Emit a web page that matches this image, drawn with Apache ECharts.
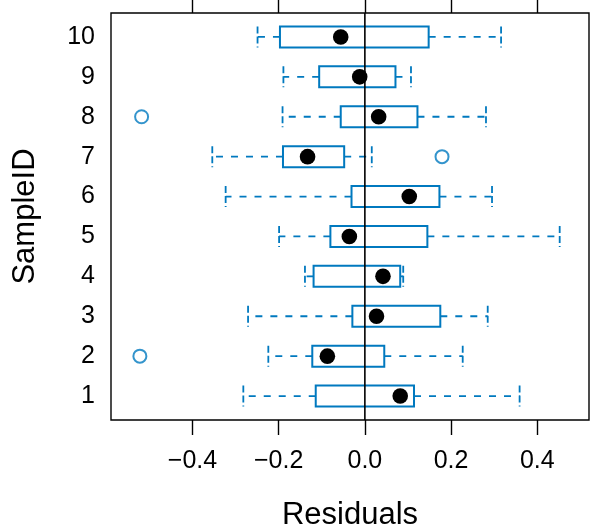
<!DOCTYPE html>
<html>
<head>
<meta charset="utf-8">
<script src="https://cdn.jsdelivr.net/npm/echarts@6/dist/echarts.min.js"></script>
<style>html,body{margin:0;padding:0;background:#fff;}#c{width:591px;height:527px;}</style>
</head>
<body>
<div id="c"></div>
<script>
// ---- data ----
var categories = ['1','2','3','4','5','6','7','8','9','10'];
var lowerWhisker = [-0.282, -0.224, -0.271, -0.139, -0.199, -0.323, -0.354, -0.191, -0.189, -0.249];
var q1          = [-0.114, -0.122, -0.029, -0.119, -0.080, -0.031, -0.190, -0.056, -0.106, -0.197];
var medians     = [ 0.082, -0.087,  0.027,  0.042, -0.036,  0.103, -0.133,  0.032, -0.012, -0.056];
var q3          = [ 0.114,  0.045,  0.175,  0.082,  0.145,  0.173, -0.048,  0.122,  0.071,  0.148];
var upperWhisker= [ 0.359,  0.227,  0.285,  0.089,  0.452,  0.295,  0.016,  0.281,  0.107,  0.316];
var outlierSample = ['2', '7', '8'];
var outlierValue  = [-0.522, 0.179, -0.518];
var xTicks = [-0.4, -0.2, 0.0, 0.2, 0.4];
var xLabel = 'Residuals';
var yLabel = 'SampleID';

// ---- build ----
var BLUE = '#0079BF';
var FONT = '"Liberation Sans", Arial, Helvetica, sans-serif';
var boxData = categories.map(function (c, i) {
  return [lowerWhisker[i], q1[i], medians[i], q3[i], upperWhisker[i], i + 1];
});
var outData = outlierSample.map(function (s, i) {
  return [outlierValue[i], categories.indexOf(s) + 1];
});
var yTickVals = categories.map(function (c, i) { return i + 1; });

function fmtX(v) {
  var s = Math.abs(v).toFixed(1);
  return v < -1e-9 ? '\u2212' + s : s;
}

var H = 10.5; // half box height (px)
function renderBox(params, api) {
  var y = api.value(5);
  var pLo = api.coord([api.value(0), y]);
  var pQ1 = api.coord([api.value(1), y]);
  var pMd = api.coord([api.value(2), y]);
  var pQ3 = api.coord([api.value(3), y]);
  var pHi = api.coord([api.value(4), y]);
  var dash = {stroke: BLUE, lineWidth: 1.8, lineDash: [7, 8], fill: null};
  var cap = {stroke: BLUE, lineWidth: 1.8, lineDash: [7, 3]};
  var cy = pMd[1];
  return {
    type: 'group',
    children: [
      {type: 'line', shape: {x1: pQ1[0], y1: cy, x2: pLo[0], y2: cy}, style: dash},
      {type: 'line', shape: {x1: pQ3[0], y1: cy, x2: pHi[0], y2: cy}, style: dash},
      {type: 'line', shape: {x1: pLo[0], y1: cy - H, x2: pLo[0], y2: cy + H}, style: cap},
      {type: 'line', shape: {x1: pHi[0], y1: cy - H, x2: pHi[0], y2: cy + H}, style: cap},
      {type: 'rect', shape: {x: pQ1[0], y: cy - H, width: pQ3[0] - pQ1[0], height: 2 * H}, style: {stroke: BLUE, lineWidth: 2, fill: 'rgba(255,255,255,0)'}},
      {type: 'circle', shape: {cx: pMd[0], cy: cy, r: 7.8}, style: {fill: '#000'}, z2: 10}
    ]
  };
}

function renderZero(params, api) {
  var a = api.coord([0, 0.4]);
  var b = api.coord([0, 10.6]);
  return {type: 'line', shape: {x1: a[0], y1: a[1], x2: b[0], y2: b[1]}, style: {stroke: '#000', lineWidth: 1.6}};
}

var chart = echarts.init(document.getElementById('c'), null, {renderer: 'canvas'});
chart.setOption({
  animation: false,
  backgroundColor: '#fff',
  textStyle: {fontFamily: FONT},
  grid: {left: 111, right: 2, top: 13, bottom: 107, show: true, borderColor: '#000', borderWidth: 1.4, backgroundColor: 'transparent', containLabel: false, outerBoundsMode: 'none'},
  xAxis: [{
    type: 'value', position: 'bottom', min: -0.589, max: 0.52,
    axisLine: {show: false}, splitLine: {show: false},
    axisTick: {show: true, length: 15, customValues: xTicks, lineStyle: {color: '#000', width: 1.4}},
    axisLabel: {show: true, customValues: xTicks, formatter: fmtX, color: '#000', fontSize: 25, margin: 29, fontFamily: FONT},
    name: xLabel, nameLocation: 'middle', nameGap: 80,
    nameTextStyle: {color: '#000', fontSize: 31, fontFamily: FONT}
  }, {
    type: 'value', position: 'top', min: -0.589, max: 0.52,
    axisLine: {show: false}, splitLine: {show: false},
    axisTick: {show: true, length: 15, customValues: xTicks, lineStyle: {color: '#000', width: 1.4}},
    axisLabel: {show: false}
  }],
  yAxis: {
    type: 'value', min: 0.4, max: 10.6,
    axisLine: {show: false}, splitLine: {show: false}, axisTick: {show: false},
    axisLabel: {show: true, customValues: yTickVals, formatter: function (v) { return categories[Math.round(v) - 1]; }, color: '#000', fontSize: 25, margin: 16, fontFamily: FONT},
    name: yLabel, nameLocation: 'middle', nameGap: 70, nameRotate: 90,
    nameTextStyle: {color: '#000', fontSize: 31, fontFamily: FONT}
  },
  series: [
    {type: 'custom', renderItem: renderBox, data: boxData, encode: {x: [0, 1, 2, 3, 4], y: 5}, z: 3},
    {type: 'custom', renderItem: renderZero, data: [[0, 0.4]], z: 4, silent: true},
    {type: 'scatter', data: outData, symbol: 'emptyCircle', symbolSize: 13,
     itemStyle: {color: BLUE, borderColor: BLUE, borderWidth: 2}, z: 5}
  ]
});
</script>
</body>
</html>
